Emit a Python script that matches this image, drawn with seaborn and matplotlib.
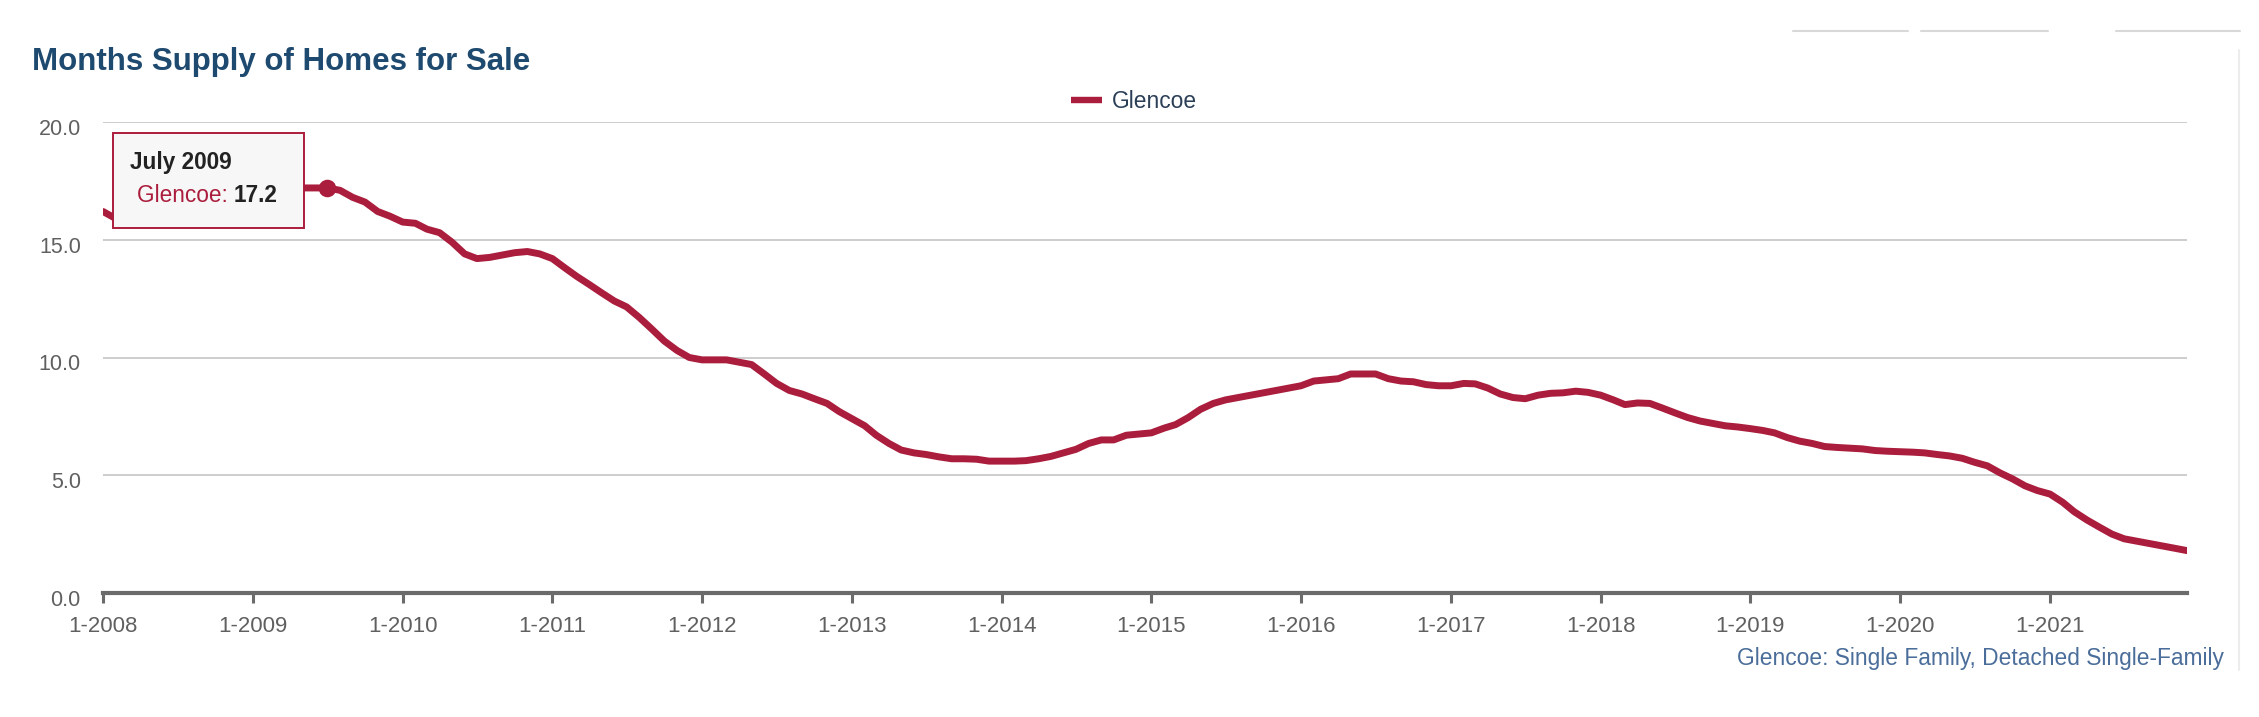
import matplotlib
matplotlib.use("Agg")
import matplotlib.pyplot as plt
import matplotlib.transforms as mtransforms
import seaborn as sns
import pandas as pd
from matplotlib.lines import Line2D
from matplotlib.patches import Rectangle

# ---------------- data ----------------
series_name = "Glencoe"
start_month = "2008-01"
values_2008 = [16.2, 15.9, 15.8, 15.9, 16.1, 16.3, 16.5, 16.6, 16.8, 16.9, 17.0, 17.0]
values_2009 = [17.1, 17.1, 17.2, 17.2, 17.2, 17.2, 17.2, 17.1, 16.8, 16.6, 16.2, 16.0]
values_2010 = [15.75, 15.7, 15.45, 15.3, 14.9, 14.4, 14.2, 14.25, 14.35, 14.45, 14.5, 14.4]
values_2011 = [14.2, 13.8, 13.45, 13.1, 12.75, 12.4, 12.15, 11.7, 11.2, 10.7, 10.3, 10.0]
values_2012 = [9.9, 9.9, 9.9, 9.8, 9.7, 9.3, 8.9, 8.6, 8.45, 8.25, 8.05, 7.7]
values_2013 = [7.4, 7.1, 6.7, 6.35, 6.07, 5.95, 5.88, 5.78, 5.7, 5.7, 5.68, 5.6]
values_2014 = [5.6, 5.6, 5.62, 5.7, 5.8, 5.95, 6.1, 6.35, 6.5, 6.5, 6.7, 6.75]
values_2015 = [6.8, 7.0, 7.15, 7.45, 7.8, 8.05, 8.2, 8.3, 8.4, 8.5, 8.6, 8.7]
values_2016 = [8.8, 9.0, 9.05, 9.1, 9.3, 9.3, 9.3, 9.1, 9.0, 8.97, 8.85, 8.8]
values_2017 = [8.8, 8.9, 8.88, 8.7, 8.45, 8.3, 8.25, 8.4, 8.48, 8.5, 8.57, 8.52]
values_2018 = [8.4, 8.2, 8.0, 8.07, 8.05, 7.85, 7.65, 7.45, 7.3, 7.2, 7.1, 7.05]
values_2019 = [6.98, 6.9, 6.8, 6.6, 6.45, 6.35, 6.22, 6.18, 6.15, 6.12, 6.05, 6.02]
values_2020 = [6.0, 5.98, 5.95, 5.88, 5.82, 5.72, 5.55, 5.4, 5.1, 4.85, 4.55, 4.35]
values_2021 = [4.2, 3.85, 3.45, 3.1, 2.8, 2.5, 2.3, 2.2, 2.1, 2.0, 1.9, 1.8]

y_ticks = [0.0, 5.0, 10.0, 15.0, 20.0]
tick_years = list(range(2008, 2022))
tooltip_month = "2009-07"
tooltip_title = "July 2009"
tooltip_value = 17.2
title_text = "Months Supply of Homes for Sale"
source_text = "Glencoe: Single Family, Detached Single-Family"

values = (values_2008 + values_2009 + values_2010 + values_2011 + values_2012 +
          values_2013 + values_2014 + values_2015 + values_2016 + values_2017 +
          values_2018 + values_2019 + values_2020 + values_2021)
months = pd.date_range(start_month, periods=len(values), freq="MS")
df = pd.DataFrame({"month": months, "supply": values})

# ---------------- style ----------------
sns.set_theme(style="white")
plt.rcParams["font.family"] = ["Liberation Sans", "DejaVu Sans"]

RED = "#ab1d3c"
NAVY = "#1f4a70"
GRAY = "#606060"
W, H = 2259, 717

fig = plt.figure(figsize=(W / 100, H / 100), dpi=100)
ax = fig.add_axes([103 / W, 1 - 593 / H, (2187 - 103) / W, (593 - 122) / H])


def fx(px):
    return px / W


def fy(py):
    return 1 - py / H


def fit_width(txt, target_px):
    fig.canvas.draw()
    w = txt.get_window_extent().width
    txt.set_fontsize(txt.get_fontsize() * target_px / w)


sns.lineplot(data=df, x="month", y="supply", ax=ax, color=RED, linewidth=5.0,
             legend=False, solid_capstyle="round", solid_joinstyle="round", zorder=3)

# tooltip point
tp = df[df["month"] == pd.Timestamp(tooltip_month)]
ax.scatter(tp["month"], tp["supply"], s=160, color=RED, zorder=4, linewidths=0)

ax.set_xlim(months[0], months[-1])
ax.set_ylim(0, 20)
ax.set_yticks(y_ticks)
ax.set_yticklabels([f"{v:.1f}" for v in y_ticks], fontsize=15.5, color=GRAY)
xt = [pd.Timestamp(f"{y}-01-01") for y in tick_years]
ax.set_xticks(xt)
ax.set_xticklabels([f"1-{y}" for y in tick_years], fontsize=16, color=GRAY)
ax.set_xlabel("")
ax.set_ylabel("")

for v in y_ticks[1:]:
    ax.axhline(v, color="#c9c9c9", linewidth=1.3, zorder=1)

for s in ["top", "right", "left"]:
    ax.spines[s].set_visible(False)
ax.spines["bottom"].set_color("#6b6b6b")
ax.spines["bottom"].set_linewidth(3.0)
ax.tick_params(axis="x", which="both", bottom=True, length=7.2, width=2.2,
               color="#6b6b6b", pad=9)
ax.tick_params(axis="y", length=0, pad=16)

# shift y labels slightly below gridlines (as in the reference)
off = mtransforms.ScaledTranslation(0, -5 / 100, fig.dpi_scale_trans)
for lab in ax.get_yticklabels():
    lab.set_transform(lab.get_transform() + off)

# title
title = fig.text(fx(32), fy(62), title_text, fontsize=22, fontweight="bold",
                 color=NAVY, va="center", ha="left")
fit_width(title, 498)

# legend (drawn manually to match the reference placement)
fig.add_artist(Line2D([fx(1071), fx(1102)], [fy(100), fy(100)], color=RED,
                      linewidth=4.6, solid_capstyle="butt", transform=fig.transFigure))
leg_txt = fig.text(fx(1112), fy(101), series_name, fontsize=16, color="#2b3f57",
                   va="center", ha="left")
fit_width(leg_txt, 85)

# tooltip box
box_x0, box_y0, box_x1, box_y1 = 113, 133, 304, 228
fig.patches.append(Rectangle((fx(box_x0), fy(box_y1)),
                             (box_x1 - box_x0) / W, (box_y1 - box_y0) / H,
                             transform=fig.transFigure, facecolor="#f7f7f7",
                             edgecolor=RED, linewidth=1.4, zorder=5))
fig.text(fx(130), fy(162), tooltip_title, fontsize=16.3, fontweight="bold",
         color="#222222", va="center", ha="left", zorder=6)
t1 = fig.text(fx(137), fy(196), f"{series_name}: ", fontsize=16.3,
              color=RED, va="center", ha="left", zorder=6)
fig.canvas.draw()
bb = t1.get_window_extent()
fig.text(bb.x1 / fig.bbox.width, fy(196), f"{tooltip_value:.1f}", fontsize=16.3,
         fontweight="bold", color="#222222", va="center", ha="left", zorder=6)

# source note
src = fig.text(fx(2224), fy(659), source_text, fontsize=15, color="#4a6d9a",
               va="center", ha="right")
fit_width(src, 487)

# faint UI artifacts
for x0, x1 in [(1793, 1908), (1921, 2048), (2116, 2240)]:
    fig.add_artist(Line2D([fx(x0), fx(x1)], [fy(31), fy(31)],
                          color="#d8d8d8", linewidth=1.5, transform=fig.transFigure))
fig.add_artist(Line2D([fx(2239), fx(2239)], [fy(50), fy(670)],
                      color="#ececec", linewidth=1.5, transform=fig.transFigure))

fig.savefig("out.png", dpi=100, facecolor="white")
